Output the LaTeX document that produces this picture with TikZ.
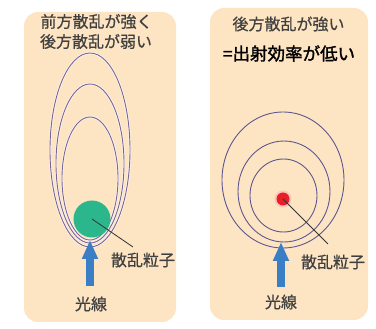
\documentclass[tikz,border=0pt]{standalone}
\usepackage{fontspec}
\setmainfont{Noto Sans CJK JP}
\newfontface\lblfont{Noto Sans CJK JP}[FakeBold=0.6]
\newfontface\headfont{Noto Sans CJK JP}[FakeBold=1.6]
\usetikzlibrary{arrows.meta}
\definecolor{peach}{RGB}{253,229,195}
\definecolor{wavepurple}{RGB}{118,100,155}
\definecolor{wavedark}{RGB}{92,86,145}
\definecolor{partgreen}{RGB}{44,182,140}
\definecolor{partred}{RGB}{232,30,40}
\definecolor{rayblue}{RGB}{58,126,198}
\definecolor{txtgray}{RGB}{64,64,64}
\tikzset{
  panel/.style={fill=peach, draw=none, rounded corners=14pt},
  wave/.style={draw=wavepurple, line width=0.9pt},
  wave2/.style={draw=wavedark, line width=0.9pt},
  halo/.style={draw=white, line width=2.4pt, opacity=0.6},
  lbl/.style={text=txtgray, font=\lblfont\fontsize{16}{18}\selectfont, inner sep=0pt},
  head/.style={text=black, font=\headfont\fontsize{17.5}{20}\selectfont, inner sep=0pt},
  leader/.style={draw=black!80, line width=0.8pt},
  ray/.style={draw=rayblue, line width=8pt, -{Triangle[width=15pt,length=19pt]}},
}
\begin{document}
\begin{tikzpicture}[x=1pt,y=-1pt]
\useasboundingbox (0,0) rectangle (376,329);
% panels
\path[panel] (24,12) rectangle (176,322);
\path[panel] (210,8) rectangle (368,320);
% left texts
\node[lbl] (L1) at (96.5,21.5) {前方散乱が強く};
\node[lbl] (L2) at (96,41.5) {後方散乱が弱い};
% right texts
\node[lbl] (R1) at (288.5,24) {後方散乱が強い};
\node[head] (R2) at (289,53.5) {=出射効率が低い};
% left ellipses
\foreach \cy/\rx/\ry in {150/40/97, 163.5/34/79.5, 178.5/28/61.5}{
  \path[halo] (90,\cy) ellipse [x radius=\rx pt, y radius=\ry pt];
  \path[wave] (90,\cy) ellipse [x radius=\rx pt, y radius=\ry pt];
}
% right circles
\foreach \cx/\cy/\rx/\ry in {283/180/61/68, 284/191.5/46/50.5, 283.5/195.5/33.5/36.5}{
  \path[wave2] (\cx,\cy) ellipse [x radius=\rx pt, y radius=\ry pt];
}
% particles
\node[circle, fill=partgreen, minimum size=37pt, inner sep=0pt] (Lp) at (92,219) {};
\fill[partred!35, opacity=0.6] (283,199) circle [radius=8.5pt];
\node[circle, fill=partred, minimum size=13pt, inner sep=0pt] (Rp) at (283,199) {};
% labels
\node[lbl] (Llab) at (143,260) {散乱粒子};
\node[lbl] (Rlab) at (333,262) {散乱粒子};
\coordinate (Lend) at (133,247);
\coordinate (Rend) at (328,244);
\draw[leader] (Lp.center) -- (Lend);
\draw[leader] (Rp.center) -- (Rend);
% rays
\coordinate (Lbot) at (90,286);
\coordinate (Ltip) at (90,240);
\coordinate (Rbot) at (281,287);
\coordinate (Rtip) at (281,242);
\draw[ray] (Lbot) -- (Ltip);
\draw[ray] (Rbot) -- (Rtip);
\node[lbl] (Lray) at (91,304) {光線};
\node[lbl] (Rray) at (281,302) {光線};
\end{tikzpicture}
\end{document}
